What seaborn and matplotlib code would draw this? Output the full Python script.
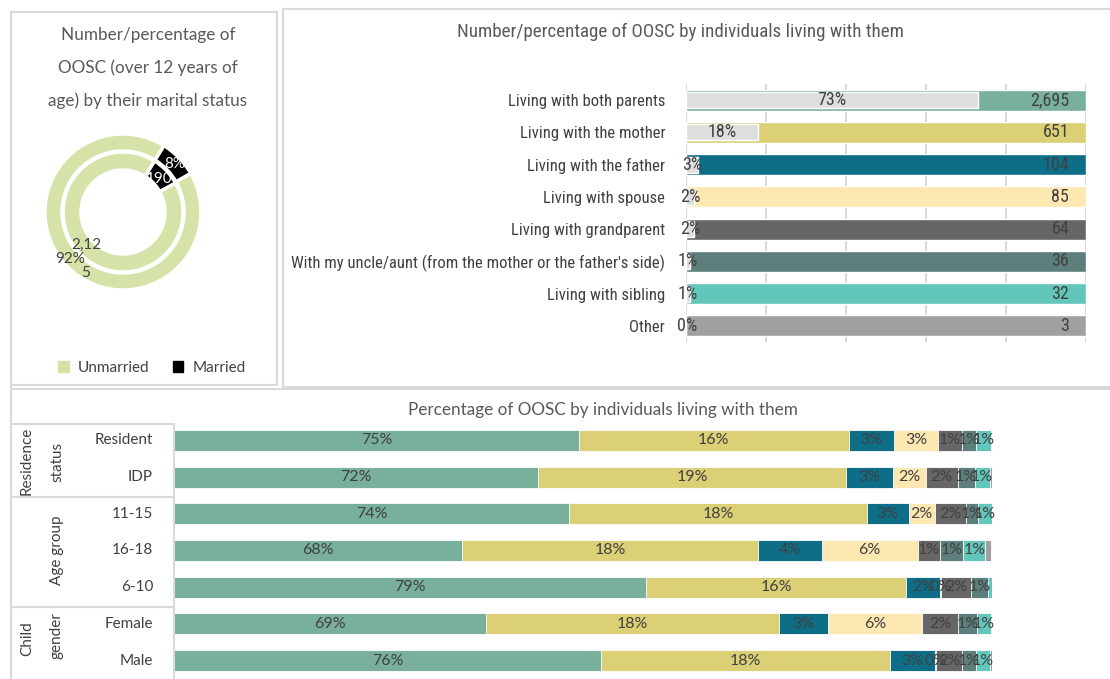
import numpy as np
import matplotlib
matplotlib.use("Agg")
import matplotlib.pyplot as plt
from matplotlib import font_manager
from matplotlib.lines import Line2D
from matplotlib.patches import Patch
import seaborn as sns

# Set seaborn plot style, then the fonts
sns.set_theme(style="white")
MAIN_FONT = ["Lato", "DejaVu Sans"]
plt.rcParams["font.family"] = MAIN_FONT

# Use a condensed family for the top right chart if one is installed
_installed = {f.name for f in font_manager.fontManager.ttflist}
NARROW_FONT = MAIN_FONT
for _name in ["Liberation Sans Narrow", "Roboto Condensed", "Open Sans Condensed",
              "DejaVu Sans Condensed", "Noto Sans Condensed"]:
    if _name in _installed:
        NARROW_FONT = [_name, "DejaVu Sans"]
        break

W, H = 1110, 679
TITLE_COLOR = "#595959"
TEXT_COLOR = "#404040"
BORDER_COLOR = "#D9D9D9"

# Marital status donut (outer ring: percentages, inner ring: counts)
marital_labels = ["Married", "Unmarried"]
marital_pct = [8, 92]
marital_counts = [190, 2125]
marital_colors = ["#000000", "#D5E3A8"]

# Individuals living with the child
living_labels = [
    "Living with both parents",
    "Living with the mother",
    "Living with the father",
    "Living with spouse",
    "Living with grandparent",
    "With my uncle/aunt (from the mother or the father's side)",
    "Living with sibling",
    "Other",
]
living_counts = [2695, 651, 104, 85, 64, 36, 32, 3]
living_pct = [73, 18, 3, 2, 2, 1, 1, 0]
living_colors = [
    "#79B09C", "#DCD077", "#0E6E87", "#FEE8B2",
    "#666666", "#5C7F7C", "#63C6BA", "#A0A0A0",
]

# Percentage of OOSC by group (segment widths as drawn, and their labels)
group_rows = ["Resident", "IDP", "11-15", "16-18", "6-10", "Female", "Male"]
share_resident = [49.5, 33.0, 5.5, 5.4, 2.9, 1.8, 1.8, 0.0]
share_idp = [44.5, 37.7, 5.7, 4.0, 3.9, 2.1, 1.8, 0.3]
share_11_15 = [48.3, 36.4, 5.1, 3.2, 3.8, 1.5, 1.7, 0.0]
share_16_18 = [35.2, 36.2, 7.8, 11.7, 2.7, 2.9, 2.7, 0.7]
share_6_10 = [57.7, 31.8, 4.2, 0.1, 3.6, 2.1, 0.6, 0.0]
share_female = [38.1, 35.8, 6.0, 11.6, 4.3, 2.4, 1.7, 0.0]
share_male = [52.2, 35.3, 5.5, 0.2, 3.1, 1.7, 1.8, 0.3]
label_resident = ["75%", "16%", "3%", "3%", "1%", "1%", "1%", ""]
label_idp = ["72%", "19%", "3%", "2%", "2%", "1%", "1%", ""]
label_11_15 = ["74%", "18%", "3%", "2%", "2%", "1%", "1%", ""]
label_16_18 = ["68%", "18%", "4%", "6%", "1%", "1%", "1%", ""]
label_6_10 = ["79%", "16%", "2%", "0%", "2%", "1%", "", ""]
label_female = ["69%", "18%", "3%", "6%", "2%", "1%", "1%", ""]
label_male = ["76%", "18%", "3%", "0%", "2%", "1%", "1%", ""]

group_names = [("Residence", "status"), ("Age group",), ("Child", "gender")]


def px_rect(x0, y0, x1, y1):
    # Axes rectangle from pixel coordinates (origin at top left)
    return [x0 / W, 1 - y1 / H, (x1 - x0) / W, (y1 - y0) / H]


def fig_line(fig, x0, y0, x1, y1, color=BORDER_COLOR, lw=1.5):
    fig.add_artist(Line2D([x0 / W, x1 / W], [1 - y0 / H, 1 - y1 / H],
                          color=color, lw=lw, transform=fig.transFigure))


def fig_text(fig, x, y, s, **kw):
    fig.text(x / W, 1 - y / H, s, **kw)


def _plot_donut(fig):
    ax = fig.add_axes(px_rect(43, 132, 203, 292))
    wedge = dict(edgecolor="white", linewidth=2.5)
    ax.pie(marital_pct, radius=78, colors=marital_colors, startangle=58.4,
           counterclock=False, wedgeprops=dict(width=17, **wedge))
    ax.pie(marital_counts, radius=60, colors=marital_colors, startangle=58.4,
           counterclock=False, wedgeprops=dict(width=18, **wedge))
    ax.set_xlim(-80, 80)
    ax.set_ylim(-80, 80)
    ax.set_aspect("equal")
    ax.axis("off")

    ax.text(52, 48, f"{marital_pct[0]}%", color="white", fontsize=11,
            ha="center", va="center")
    ax.text(36, 33, f"{marital_counts[0]}", color="white", fontsize=11,
            ha="center", va="center")
    count = f"{marital_counts[1]:,}"
    ax.text(-37, -33, count[:4], color=TEXT_COLOR, fontsize=11,
            ha="center", va="center")
    ax.text(-53, -47, f"{marital_pct[1]}%", color=TEXT_COLOR, fontsize=11,
            ha="center", va="center")
    ax.text(-37, -61, count[4:], color=TEXT_COLOR, fontsize=11,
            ha="center", va="center")

    for i, line in enumerate(["Number/percentage of", "OOSC (over 12 years of",
                              "age) by their marital status"]):
        fig_text(fig, 148, 35 + 33 * i, line, ha="center", va="center",
                 fontsize=12.3, color=TITLE_COLOR)

    handles = [Patch(color=marital_colors[1]), Patch(color=marital_colors[0])]
    fig.legend(handles, [marital_labels[1], marital_labels[0]], loc="center",
               bbox_to_anchor=(152 / W, 1 - 368 / H), ncol=2, frameon=False,
               handlelength=0.7, handleheight=0.7, handletextpad=0.6,
               columnspacing=1.5, fontsize=11, labelcolor=TEXT_COLOR)


def _plot_living_with(fig):
    ax = fig.add_axes(px_rect(686, 84, 1086, 342))
    sns.barplot(x=[100] * len(living_labels), y=living_labels,
                hue=living_labels, palette=living_colors, legend=False,
                orient="h", width=0.65, saturation=1, ax=ax)
    sns.barplot(x=living_pct, y=living_labels, color="#DEDEDE",
                orient="h", width=0.5, saturation=1, ax=ax)
    ax.set_xlim(0, 100)
    ax.set_xticks(np.arange(0, 101, 20))
    ax.xaxis.grid(True, color=BORDER_COLOR, lw=1.5)
    ax.set_axisbelow(True)
    ax.tick_params(axis="x", labelbottom=False, length=0)
    ax.tick_params(axis="y", length=0, pad=15, labelsize=12,
                   labelcolor=TEXT_COLOR)
    for lab in ax.get_yticklabels():
        lab.set_family(NARROW_FONT)
    for s in ax.spines.values():
        s.set_visible(False)
    ax.set_xlabel("")
    ax.set_ylabel("")

    for i, (p, c) in enumerate(zip(living_pct, living_counts)):
        ax.text(max(p, 0.6) / 2, i, f"{p}%", ha="center", va="center",
                fontsize=13, color=TEXT_COLOR, family=NARROW_FONT)
        ax.text(95.8, i, f"{c:,}", ha="right", va="center",
                fontsize=13, color=TEXT_COLOR, family=NARROW_FONT)

    fig_text(fig, 680, 32, "Number/percentage of OOSC by individuals living with them",
             ha="center", va="center", fontsize=13.7, color=TITLE_COLOR,
             family=NARROW_FONT)


def _plot_groups(fig):
    shares = np.array([share_resident, share_idp, share_11_15, share_16_18,
                       share_6_10, share_female, share_male])
    labels = [label_resident, label_idp, label_11_15, label_16_18,
              label_6_10, label_female, label_male]
    cum = np.cumsum(shares, axis=1)

    ax = fig.add_axes(px_rect(174, 422, 992, 679))
    # Draw cumulative totals from the back to the front to stack the segments
    for k in range(shares.shape[1] - 1, -1, -1):
        sns.barplot(x=cum[:, k], y=group_rows, color=living_colors[k],
                    orient="h", width=0.57, saturation=1, ax=ax,
                    edgecolor="white", linewidth=0.6)
    ax.set_xlim(0, 100)
    ax.set_ylim(6.5, -0.5)
    ax.axis("off")

    for i in range(len(group_rows)):
        for k, lab in enumerate(labels[i]):
            if lab:
                ax.text(cum[i, k] - shares[i, k] / 2, i, lab, ha="center",
                        va="center", fontsize=11.5, color=TEXT_COLOR)
        fig_text(fig, 153, 440 + 36.8 * i, group_rows[i], ha="right",
                 va="center", fontsize=11, color=TEXT_COLOR)

    fig_text(fig, 603, 410, "Percentage of OOSC by individuals living with them",
             ha="center", va="center", fontsize=12.3, color=TITLE_COLOR)

    # Group headers on the left
    for x, y, s in [(27, 461, group_names[0][0]), (57, 462, group_names[0][1]),
                    (57, 550, group_names[1][0]), (27, 639, group_names[2][0]),
                    (57, 636, group_names[2][1])]:
        fig_text(fig, x, y, s, rotation=90, ha="center", va="center",
                 fontsize=11, color=TEXT_COLOR)

    for y in [424, 497, 607]:
        fig_line(fig, 11, y, 174, y)
    fig_line(fig, 174, 424, 174, 679)


def main():
    fig = plt.figure(figsize=(W / 100, H / 100), dpi=100)

    # Panel borders
    fig_line(fig, 11, 12, 277, 12)
    fig_line(fig, 11, 12, 11, 679)
    fig_line(fig, 277, 12, 277, 385)
    fig_line(fig, 11, 385, 277, 385)
    fig_line(fig, 283, 9, 1110, 9)
    fig_line(fig, 283, 9, 283, 387)
    fig_line(fig, 283, 387, 1110, 387)
    fig_line(fig, 11, 389, 1110, 389)

    _plot_donut(fig)
    _plot_living_with(fig)
    _plot_groups(fig)

    fig.savefig("out.png", dpi=100)


if __name__ == "__main__":
    main()
